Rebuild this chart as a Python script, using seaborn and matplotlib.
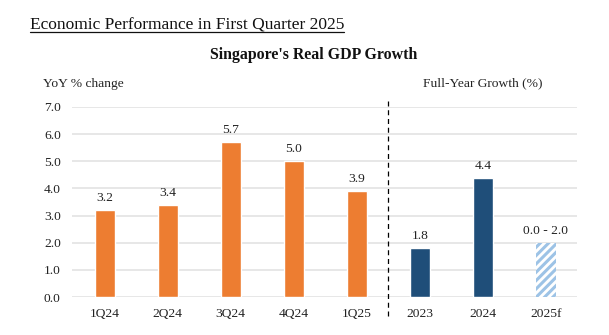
import matplotlib
matplotlib.use("Agg")
import matplotlib.pyplot as plt
import seaborn as sns
import pandas as pd
from matplotlib.lines import Line2D

categories = ["1Q24", "2Q24", "3Q24", "4Q24", "1Q25", "2023", "2024", "2025f"]
values = [3.2, 3.4, 5.7, 5.0, 3.9, 1.8, 4.4, 2.0]
labels = ["3.2", "3.4", "5.7", "5.0", "3.9", "1.8", "4.4", "0.0 - 2.0"]
groups = ["Quarterly"] * 5 + ["Annual"] * 2 + ["Forecast"]
yticks = [0, 1, 2, 3, 4, 5, 6, 7]

sns.set_theme(style="white")
plt.rcParams["font.family"] = ["Liberation Serif", "DejaVu Serif"]
plt.rcParams["hatch.linewidth"] = 2.2

df = pd.DataFrame({"cat": categories, "val": values, "grp": groups})

fig = plt.figure(figsize=(6.09, 3.35), dpi=100)
ax = fig.add_axes([0.118, 0.113, 0.829, 0.568])

palette = {"Quarterly": "#ED7D31", "Annual": "#1F4E79", "Forecast": "white"}
sns.barplot(data=df, x="cat", y="val", hue="grp", palette=palette, dodge=False,
            width=0.32, ax=ax, legend=False, saturation=1, order=categories)

for p in ax.patches:
    if p.get_height() > 0 and abs(p.get_x() + p.get_width() / 2 - 7) < 0.01:
        p.set_facecolor("white")
        p.set_edgecolor("#9DC3E6")
        p.set_hatch("////")
        p.set_linewidth(0)

bars = [p for p in ax.patches if p.get_height() > 0]
bars.sort(key=lambda p: p.get_x())
for p, lab in zip(bars, labels):
    ax.text(p.get_x() + p.get_width() / 2, p.get_height() + 0.22, lab,
            ha="center", va="bottom", fontsize=9.7, color="#222222")

ax.set_ylim(0, 7)
ax.set_xlim(-0.52, 7.49)
ax.set_yticks(yticks)
ax.set_yticklabels([f"{v:.1f}" for v in yticks], fontsize=9.7, color="#222222")
ax.tick_params(axis="x", labelsize=9.7, colors="#222222", length=0, pad=8)
ax.tick_params(axis="y", length=0, pad=8)
ax.set_xlabel("")
ax.set_ylabel("")
ax.grid(axis="y", color="#E3E3E3", linewidth=1.2)
ax.set_axisbelow(True)
for s in ax.spines.values():
    s.set_visible(False)

ax.plot([4.5, 4.5], [-0.7, 7.27], color="black", linestyle=(0, (4, 3)),
        linewidth=0.9, clip_on=False)

t = fig.text(30 / 609, 1 - 29 / 335, "Economic Performance in First Quarter 2025",
             fontsize=12.5, ha="left", va="baseline", color="#111111")
fig.text(314 / 609, 1 - 59 / 335, "Singapore's Real GDP Growth", fontsize=11.4,
         fontweight="bold", ha="center", va="baseline", color="#111111")
fig.text(43 / 609, 1 - 87 / 335, "YoY % change", fontsize=9.7, ha="left",
         va="baseline", color="#222222")
fig.text(483 / 609, 1 - 86 / 335, "Full-Year Growth (%)", fontsize=9.7,
         ha="center", va="baseline", color="#222222")

fig.canvas.draw()
bb = t.get_window_extent().transformed(fig.transFigure.inverted())
fig.add_artist(Line2D([bb.x0, bb.x1], [1 - 32 / 335] * 2, color="#111111",
                      linewidth=0.9, transform=fig.transFigure))

fig.savefig("out.png", dpi=100, facecolor="white")
